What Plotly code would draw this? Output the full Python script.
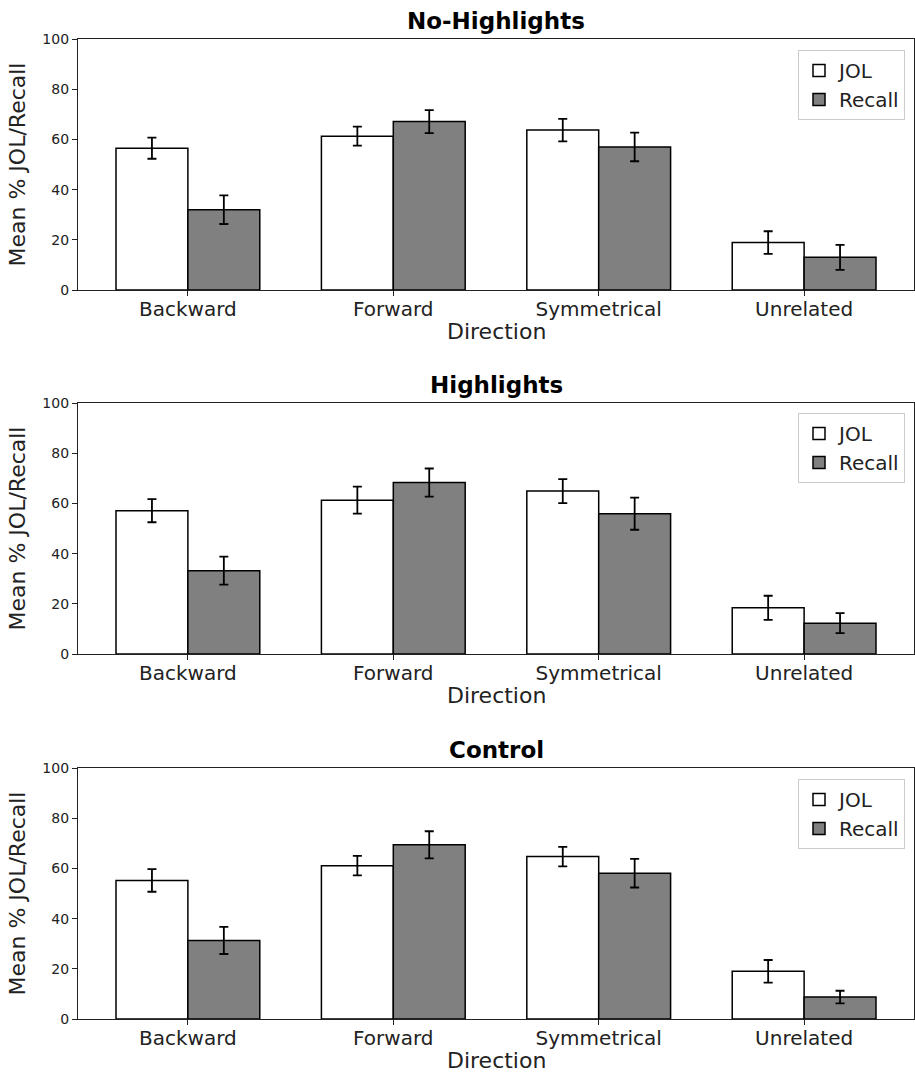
import plotly.graph_objects as go
from plotly.subplots import make_subplots

categories = ["Backward", "Forward", "Symmetrical", "Unrelated"]
panel_titles = ["No-Highlights", "Highlights", "Control"]

# Panel 1: No-Highlights
nohl_jol = [56.5, 61.3, 63.7, 18.9]
nohl_jol_err = [4.2, 3.8, 4.5, 4.5]
nohl_recall = [32.0, 67.1, 57.0, 13.0]
nohl_recall_err = [5.7, 4.6, 5.7, 5.0]

# Panel 2: Highlights
hl_jol = [57.1, 61.3, 64.9, 18.4]
hl_jol_err = [4.6, 5.4, 4.8, 4.8]
hl_recall = [33.2, 68.3, 55.9, 12.3]
hl_recall_err = [5.6, 5.6, 6.4, 4.0]

# Panel 3: Control
ctl_jol = [55.2, 61.1, 64.7, 19.0]
ctl_jol_err = [4.5, 3.9, 3.9, 4.5]
ctl_recall = [31.3, 69.4, 58.1, 8.75]
ctl_recall_err = [5.4, 5.4, 5.7, 2.5]

y_ticks = [0, 20, 40, 60, 80, 100]

panels = [
    (nohl_jol, nohl_jol_err, nohl_recall, nohl_recall_err),
    (hl_jol, hl_jol_err, hl_recall, hl_recall_err),
    (ctl_jol, ctl_jol_err, ctl_recall, ctl_recall_err),
]

W, H = 915, 1073
FONT = "DejaVu Sans"
# pixel positions of panels (top, bottom)
panel_px = [(39, 290), (403, 654), (768, 1019)]
legend_top_px = [50, 413, 779]

fig = make_subplots(rows=3, cols=1)

for i, (jol, jerr, rec, rerr) in enumerate(panels):
    r = i + 1
    lg = "legend" if i == 0 else f"legend{i+1}"
    fig.add_trace(go.Bar(
        x=categories, y=jol, name="JOL", legend=lg,
        marker=dict(color="white", line=dict(color="black", width=1.5)),
        error_y=dict(type="data", array=jerr, color="black", thickness=1.8, width=4.5),
        offsetgroup="jol",
    ), row=r, col=1)
    fig.add_trace(go.Bar(
        x=categories, y=rec, name="Recall", legend=lg,
        marker=dict(color="#808080", line=dict(color="black", width=1.5)),
        error_y=dict(type="data", array=rerr, color="black", thickness=1.8, width=4.5),
        offsetgroup="recall",
    ), row=r, col=1)

layout = dict(
    width=W, height=H,
    margin=dict(l=78, r=1, t=0, b=0, autoexpand=False),
    plot_bgcolor="white", paper_bgcolor="white",
    barmode="group", bargap=0.3, bargroupgap=0,
    font=dict(family=FONT, color="#222"),
)

annotations = []
for i in range(3):
    top, bot = panel_px[i]
    ax = "" if i == 0 else str(i + 1)
    layout[f"xaxis{ax}"] = dict(
        domain=[0, 1], range=[-0.535, 3.535], automargin=False,
        showline=True, linecolor="#222", linewidth=1.2, mirror=True,
        ticks="outside", ticklen=5, tickcolor="#222", tickwidth=1.2,
        ticklabelstandoff=-4,
        tickfont=dict(size=20, family=FONT, color="#222"),
        showgrid=False, zeroline=False,
    )
    layout[f"yaxis{ax}"] = dict(
        domain=[(H - bot) / H, (H - top) / H], range=[0, 100], automargin=False,
        tickvals=y_ticks,
        showline=True, linecolor="#222", linewidth=1.2, mirror=True,
        ticks="outside", ticklen=5, tickcolor="#222", tickwidth=1.2,
        tickfont=dict(size=14, family=FONT, color="#222"),
        showgrid=False, zeroline=False,
        title=dict(text="Mean % JOL/Recall", font=dict(size=22, family=FONT, color="#222"), standoff=10),
    )
    lg = "legend" if i == 0 else f"legend{i+1}"
    layout[lg] = dict(
        x=(905 - 78) / (914 - 78), xanchor="right",
        y=(H - legend_top_px[i]) / H, yanchor="top",
        bgcolor="white", bordercolor="#cccccc", borderwidth=1,
        font=dict(size=20, family=FONT, color="#222"),
    )
    xr = "x domain" if i == 0 else f"x{i+1} domain"
    yr = "y domain" if i == 0 else f"y{i+1} domain"
    annotations.append(dict(
        text="<b>" + panel_titles[i] + "</b>", xref=xr, yref=yr, x=0.5, y=1,
        xanchor="center", yanchor="middle", yshift=18, showarrow=False,
        font=dict(size=23, family=FONT, color="black"),
    ))
    annotations.append(dict(
        text="Direction", xref=xr, yref=yr, x=0.5, y=0,
        xanchor="center", yanchor="middle", yshift=-41, showarrow=False,
        font=dict(size=22, family=FONT, color="#222"),
    ))

layout["annotations"] = annotations
fig.update_layout(**layout)

fig.write_html(
    "out.html",
    config={"displayModeBar": False},
    post_script="document.body.style.margin='0';document.body.style.overflow='hidden';",
)
